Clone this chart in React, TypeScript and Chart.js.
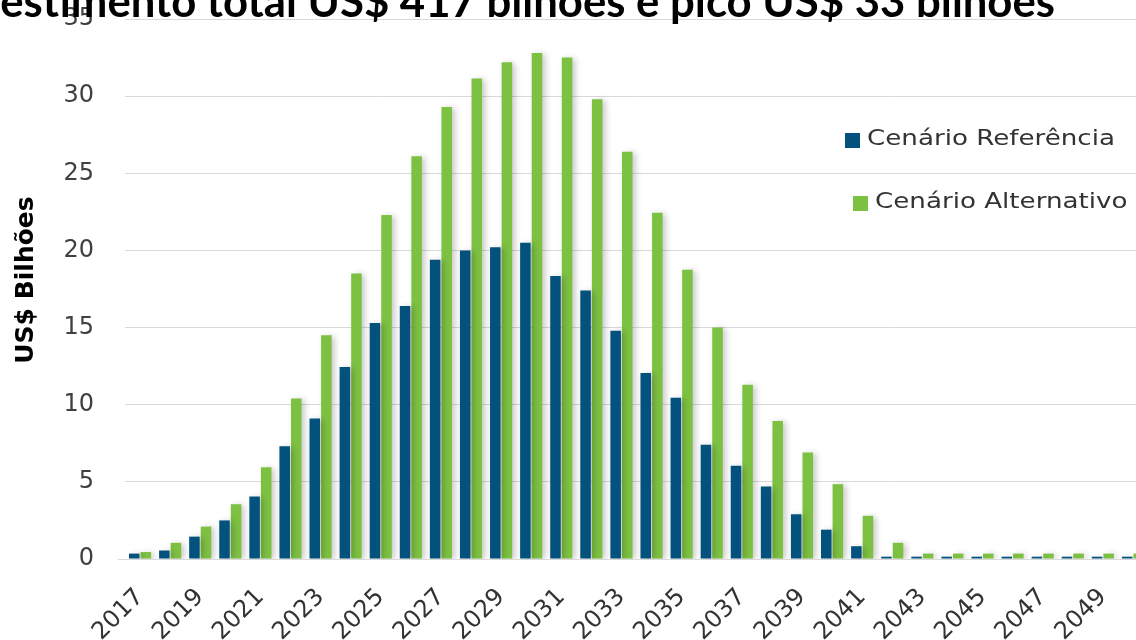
import React, { useEffect, useRef } from "react";
import { Chart, registerables } from "chart.js";

Chart.register(...registerables);

const TITLE = "Investimento total US$ 417 bilhões e pico US$ 33 bilhões";
const TITLE_VISIBLE = "estimento total US$ 417 bilhões e pico US$ 33 bilhões";
const Y_TITLE = "US$ Bilhões";

const years = [
  "2017", "2018", "2019", "2020", "2021", "2022", "2023", "2024", "2025", "2026",
  "2027", "2028", "2029", "2030", "2031", "2032", "2033", "2034", "2035", "2036",
  "2037", "2038", "2039", "2040", "2041", "2042", "2043", "2044", "2045", "2046",
  "2047", "2048", "2049", "2050",
];

const referencia = [
  0.35, 0.55, 1.45, 2.5, 4.05, 7.3, 9.1, 12.45, 15.3, 16.4,
  19.4, 20.0, 20.2, 20.5, 18.35, 17.4, 14.8, 12.05, 10.45, 7.4,
  6.05, 4.7, 2.9, 1.9, 0.83, 0.15, 0.15, 0.15, 0.15, 0.15,
  0.15, 0.15, 0.15, 0.15,
];

const alternativo = [
  0.45, 1.05, 2.1, 3.55, 5.95, 10.4, 14.5, 18.5, 22.3, 26.1,
  29.3, 31.15, 32.2, 32.8, 32.5, 29.8, 26.4, 22.45, 18.75, 15.0,
  11.3, 8.95, 6.9, 4.85, 2.8, 1.05, 0.35, 0.35, 0.35, 0.35,
  0.35, 0.35, 0.35, 0.35,
];

const seriesLabels = ["Cenário Referência", "Cenário Alternativo"];
const seriesColors = ["#03527E", "#7DC142"];

const Y_MIN = 0;
const Y_MAX = 35;
const Y_STEP = 5;

const TICK_FONT = "'DejaVu Sans', Verdana, sans-serif";

const shadowPlugin = {
  id: "barShadow",
  beforeDatasetsDraw(chart: any) {
    const ctx = chart.ctx;
    ctx.save();
    ctx.shadowColor = "rgba(0,0,0,0.22)";
    ctx.shadowBlur = 6;
    ctx.shadowOffsetX = 3;
    ctx.shadowOffsetY = 1;
  },
  afterDatasetsDraw(chart: any) {
    chart.ctx.restore();
  },
};

const overlayPlugin = {
  id: "overlay",
  afterDraw(chart: any) {
    const ctx = chart.ctx as CanvasRenderingContext2D;

    // Title (cropped at the top/left as in the reference)
    ctx.save();
    ctx.font = "bold 40px Lato, 'Open Sans', sans-serif";
    const w = ctx.measureText(TITLE_VISIBLE).width;
    const size = (40 * 1055) / w;
    ctx.font = `bold ${size}px Lato, 'Open Sans', sans-serif`;
    ctx.fillStyle = "#000000";
    ctx.textAlign = "right";
    ctx.textBaseline = "alphabetic";
    ctx.fillText(TITLE, 1055, 17);
    ctx.restore();

    // Y axis title
    ctx.save();
    ctx.translate(26, 280);
    ctx.rotate(-Math.PI / 2);
    ctx.font = "bold 25px 'DejaVu Sans', sans-serif";
    ctx.fillStyle = "#000000";
    ctx.textAlign = "center";
    ctx.textBaseline = "middle";
    ctx.fillText(Y_TITLE, 0, 0);
    ctx.restore();

    // Legend
    const rows = [
      { box: [845, 133], text: [867, 140] },
      { box: [853, 196], text: [875, 203] },
    ];
    ctx.save();
    ctx.font = `21px ${TICK_FONT}`;
    const m = ctx.measureText(seriesLabels[0]).width;
    const sx = 248 / m;
    seriesLabels.forEach((lab, i) => {
      const r = rows[i];
      ctx.fillStyle = seriesColors[i];
      ctx.fillRect(r.box[0], r.box[1], 15, 15);
      ctx.save();
      ctx.translate(r.text[0], r.text[1]);
      ctx.scale(sx, 1);
      ctx.fillStyle = "#333333";
      ctx.textAlign = "left";
      ctx.textBaseline = "middle";
      ctx.fillText(lab, 0, 0);
      ctx.restore();
    });
    ctx.restore();
  },
};

export default function App() {
  const canvasRef = useRef<HTMLCanvasElement | null>(null);

  useEffect(() => {
    const canvas = canvasRef.current;
    if (!canvas) return;
    const chart = new Chart(canvas, {
      type: "bar",
      data: {
        labels: years,
        datasets: [
          {
            label: seriesLabels[0],
            data: referencia,
            backgroundColor: seriesColors[0],
            borderWidth: 0,
          },
          {
            label: seriesLabels[1],
            data: alternativo,
            backgroundColor: seriesColors[1],
            borderWidth: 0,
          },
        ],
      },
      options: {
        responsive: false,
        animation: false,
        devicePixelRatio: 1,
        layout: { padding: { top: 19, right: 2, left: 0, bottom: 0 } },
        datasets: {
          bar: { categoryPercentage: 0.77, barPercentage: 0.91 },
        },
        plugins: {
          legend: { display: false },
          title: { display: false },
          tooltip: { enabled: false },
        },
        scales: {
          x: {
            grid: { display: false },
            border: { display: true, color: "#d9d9d9", width: 1 },
            ticks: {
              autoSkip: false,
              minRotation: 45,
              maxRotation: 45,
              padding: 16,
              color: "#333333",
              font: { family: TICK_FONT, size: 24 },
              callback: (_v: any, i: number) => (i % 2 === 0 ? years[i] : ""),
            },
            afterFit: (s: any) => {
              s.height = 81;
              s.paddingLeft = 0;
              s.paddingRight = 0;
            },
          },
          y: {
            min: Y_MIN,
            max: Y_MAX,
            border: { display: false },
            grid: {
              color: "#d9d9d9",
              lineWidth: 1,
              tickLength: 7,
              tickColor: (c: any) =>
                c.tick && c.tick.value === 0 ? "#d9d9d9" : "rgba(0,0,0,0)",
            },
            ticks: {
              stepSize: Y_STEP,
              padding: 24,
              color: "#404040",
              font: { family: TICK_FONT, size: 24 },
            },
            afterFit: (s: any) => {
              s.width = 125;
              s.paddingTop = 0;
              s.paddingBottom = 0;
            },
          },
        },
      },
      plugins: [shadowPlugin, overlayPlugin],
    } as any);
    return () => chart.destroy();
  }, []);

  return (
    <div
      style={{
        position: "fixed",
        left: 0,
        top: 0,
        width: 1136,
        height: 640,
        overflow: "hidden",
        background: "#ffffff",
      }}
    >
      <canvas
        ref={canvasRef}
        width={1150}
        height={640}
        style={{ display: "block", width: 1150, height: 640 }}
      />
    </div>
  );
}
